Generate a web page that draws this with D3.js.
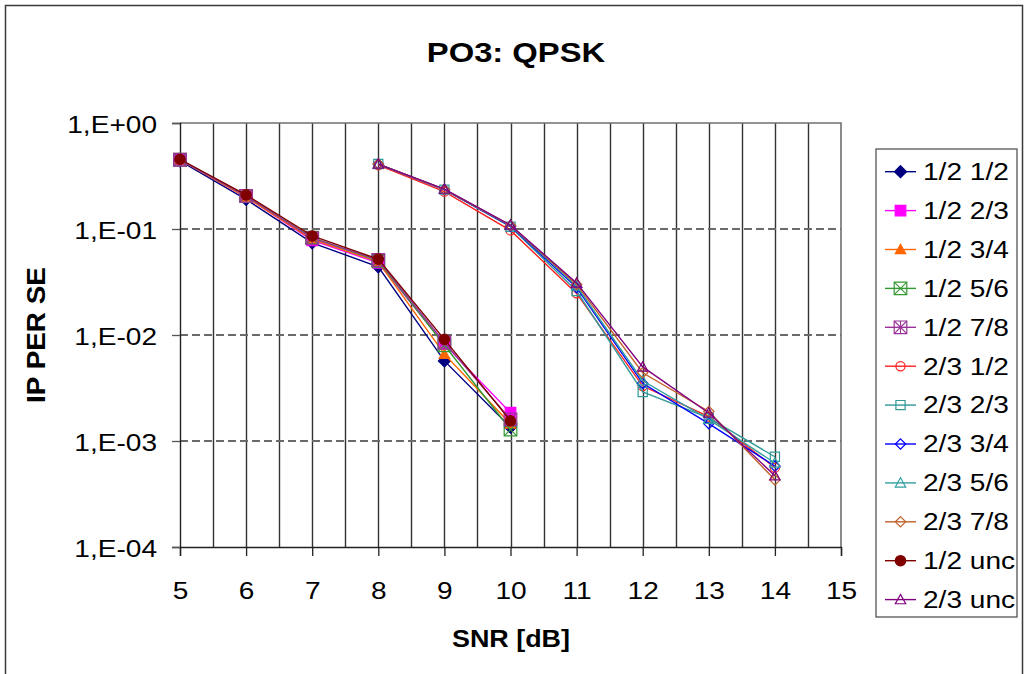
<!DOCTYPE html>
<html>
<head>
<meta charset="utf-8">
<script src="https://cdn.jsdelivr.net/npm/d3@7"></script>
<style>
  html, body { margin: 0; padding: 0; background: #fff; }
  svg { display: block; font-family: "Liberation Sans", Arial, sans-serif; }
</style>
</head>
<body>
<svg id="chart" width="1024" height="674"></svg>
<script>
// SNR points for the two code-rate groups
const snrLow = [5, 6, 7, 8, 9, 10];
const snrHigh = [8, 9, 10, 11, 12, 13, 14];

// IP packet error rate per series
const per12_12 = [0.44, 0.19, 0.074, 0.044, 0.0057, 0.00135];
const per12_23 = [0.45, 0.20, 0.078, 0.048, 0.0082, 0.00185];
const per12_34 = [0.45, 0.20, 0.080, 0.049, 0.0066, 0.00145];
const per12_56 = [0.45, 0.205, 0.083, 0.050, 0.0080, 0.00128];
const per12_78 = [0.45, 0.205, 0.082, 0.051, 0.0085, 0.0016];
const per23_12 = [0.40, 0.225, 0.097, 0.0247, 0.0033, 0.0017, 0.00056];
const per23_23 = [0.41, 0.235, 0.105, 0.026, 0.0029, 0.00165, 0.00071];
const per23_34 = [0.41, 0.235, 0.106, 0.028, 0.0035, 0.00146, 0.00058];
const per23_56 = [0.41, 0.237, 0.108, 0.029, 0.0037, 0.0016, 0.00062];
const per23_78 = [0.41, 0.236, 0.108, 0.030, 0.0044, 0.0019, 0.00043];
const per12_unc = [0.455, 0.21, 0.086, 0.052, 0.0091, 0.00155];
const per23_unc = [0.41, 0.238, 0.109, 0.031, 0.0050, 0.00184, 0.00047];

const seriesNames = ["1/2 1/2", "1/2 2/3", "1/2 3/4", "1/2 5/6", "1/2 7/8",
  "2/3 1/2", "2/3 2/3", "2/3 3/4", "2/3 5/6", "2/3 7/8", "1/2 unc", "2/3 unc"];

const xTicks = [5, 6, 7, 8, 9, 10, 11, 12, 13, 14, 15];
const yTicks = [1, 1e-1, 1e-2, 1e-3, 1e-4];
const yTickLabels = ["1,E+00", "1,E-01", "1,E-02", "1,E-03", "1,E-04"];

const titleText = "PO3: QPSK";
const xTitle = "SNR [dB]";
const yTitle = "IP PER SE";

// marker style per series: shape, stroke colour, fill, half-size
const styles = [
  { shape: "diamond", color: "#000080", fill: "#000080", r: 6 },
  { shape: "square", color: "#ff00ff", fill: "#ff00ff", r: 5.3 },
  { shape: "triangle", color: "#ff6600", fill: "#ff6600", r: 5.2 },
  { shape: "squareX", color: "#339933", fill: "none", r: 6.3 },
  { shape: "squareStar", color: "#993399", fill: "none", r: 6.3 },
  { shape: "circle", color: "#ff2020", fill: "none", r: 4.6 },
  { shape: "square", color: "#339999", fill: "none", r: 4.6 },
  { shape: "diamond", color: "#0000ff", fill: "none", r: 5.2 },
  { shape: "triangle", color: "#33a0a0", fill: "none", r: 5.2 },
  { shape: "diamond", color: "#c0602a", fill: "none", r: 5.2 },
  { shape: "circle", color: "#800000", fill: "#800000", r: 5.2 },
  { shape: "triangle", color: "#800080", fill: "none", r: 5.2 }
];

const seriesData = [
  [snrLow, per12_12], [snrLow, per12_23], [snrLow, per12_34], [snrLow, per12_56],
  [snrLow, per12_78], [snrHigh, per23_12], [snrHigh, per23_23], [snrHigh, per23_34],
  [snrHigh, per23_56], [snrHigh, per23_78], [snrLow, per12_unc], [snrHigh, per23_unc]
];

const svg = d3.select("#chart");
const SX = 1.17; // horizontal text stretch

const plot = { left: 180, right: 841, top: 123, bottom: 547 };
const x = d3.scaleLinear().domain([5, 15]).range([plot.left, plot.right]);
const y = d3.scaleLog().domain([1e-4, 1]).range([plot.bottom, plot.top]);

function stretchedText(parent, px, py, str, size, opts = {}) {
  return parent.append("text")
    .attr("transform", `translate(${px},${py}) ${opts.rotate ? `rotate(${opts.rotate})` : ""} scale(${opts.sx || SX},1)`)
    .attr("font-size", size)
    .attr("text-anchor", opts.anchor || "start")
    .attr("font-weight", opts.bold ? "bold" : "normal")
    .attr("fill", "#000")
    .text(str);
}

// outer frame
svg.append("rect").attr("x", 5.5).attr("y", 5.5).attr("width", 1017).attr("height", 680)
  .attr("fill", "#fff").attr("stroke", "#3a3a3a").attr("stroke-width", 1.5);

// vertical gridlines every 0.5 dB
const vGrid = d3.range(5.5, 15, 0.5);
svg.append("g").selectAll("line").data(vGrid).join("line")
  .attr("x1", d => Math.round(x(d)) + 0.5).attr("x2", d => Math.round(x(d)) + 0.5)
  .attr("y1", plot.top).attr("y2", plot.bottom)
  .attr("stroke", "#333").attr("stroke-width", 1.4);

// horizontal dashed gridlines at each decade
svg.append("g").selectAll("line").data(yTicks.slice(1, 4)).join("line")
  .attr("x1", plot.left).attr("x2", plot.right)
  .attr("y1", d => y(d)).attr("y2", d => y(d))
  .attr("stroke", "#6a6a6a").attr("stroke-width", 2).attr("stroke-dasharray", "8,4");

// plot border top / right
svg.append("path")
  .attr("d", `M${plot.left},${plot.top}H${plot.right}V${plot.bottom}`)
  .attr("fill", "none").attr("stroke", "#707070").attr("stroke-width", 1.6);

// axes
const xAxis = d3.axisBottom(x).tickValues(xTicks).tickSize(9).tickFormat(d3.format("d"));
const gx = svg.append("g").attr("transform", `translate(0,${plot.bottom})`).call(xAxis);
gx.select(".domain").attr("stroke", "#222").attr("stroke-width", 1.4);
gx.selectAll(".tick line").attr("stroke", "#222").attr("stroke-width", 1.3);
gx.selectAll(".tick text").remove();
gx.selectAll(".tick").each(function (d) {
  stretchedText(d3.select(this), 0, 52, String(d), 24, { anchor: "middle" });
});

const yAxis = d3.axisLeft(y).tickValues(yTicks).tickSize(8)
  .tickFormat((d, i) => yTickLabels[i]);
const gy = svg.append("g").attr("transform", `translate(${plot.left},0)`).call(yAxis);
gy.select(".domain").attr("stroke", "#222").attr("stroke-width", 1.4);
gy.selectAll(".tick line").attr("stroke", "#555").attr("stroke-width", 1.3);
gy.selectAll(".tick text").remove();
gy.selectAll(".tick").each(function (d, i) {
  stretchedText(d3.select(this), -23, 9.5, yTickLabels[i], 24, { anchor: "end" });
});

// titles
stretchedText(svg, 516, 62, titleText, 28, { anchor: "middle", bold: true });
stretchedText(svg, 511, 647, xTitle, 23, { anchor: "middle", bold: true });
stretchedText(svg, 45, 335, yTitle, 25, { anchor: "middle", bold: true, rotate: -90, sx: 1.116 });

// marker path generators
function markerPath(shape, r) {
  switch (shape) {
    case "diamond": return `M0,${-r}L${r},0L0,${r}L${-r},0Z`;
    case "triangle": return `M0,${-r}L${r},${r * 0.8}L${-r},${r * 0.8}Z`;
    case "circle": return d3.symbol(d3.symbolCircle, Math.PI * r * r)();
    default: return `M${-r},${-r}H${r}V${r}H${-r}Z`;
  }
}
function drawMarker(g, st, cx, cy) {
  const m = g.append("g").attr("transform", `translate(${cx},${cy})`);
  const base = st.shape.startsWith("square") ? "square" : st.shape;
  const rr = st.r;
  m.append("path").attr("d", markerPath(base, rr))
    .attr("fill", st.fill)
    .attr("stroke", st.color).attr("stroke-width", 1.2);
  if (st.shape === "squareX" || st.shape === "squareStar") {
    m.append("path").attr("d", `M${-rr},${-rr}L${rr},${rr}M${rr},${-rr}L${-rr},${rr}`)
      .attr("stroke", st.color).attr("stroke-width", 1.1);
  }
  if (st.shape === "squareStar") {
    m.append("path").attr("d", `M0,${-rr}V${rr}`).attr("stroke", st.color).attr("stroke-width", 1.1);
  }
}

const line = d3.line().x(d => x(d[0])).y(d => y(d[1]));
const marks = svg.append("g");
seriesData.forEach((sd, i) => {
  const st = styles[i];
  const pts = sd[0].map((s, k) => [s, sd[1][k]]);
  const g = marks.append("g");
  g.append("path").attr("d", line(pts)).attr("fill", "none")
    .attr("stroke", st.color).attr("stroke-width", 1.4);
  pts.forEach(p => drawMarker(g, st, x(p[0]), y(p[1])));
});

// legend
const lg = svg.append("g");
lg.append("rect").attr("x", 876).attr("y", 149).attr("width", 141).attr("height", 468)
  .attr("fill", "#fff").attr("stroke", "#555").attr("stroke-width", 1.3);
seriesNames.forEach((name, i) => {
  const cy = 171.7 + i * 38.9;
  const st = styles[i];
  lg.append("line").attr("x1", 885).attr("x2", 916).attr("y1", cy).attr("y2", cy)
    .attr("stroke", st.color).attr("stroke-width", 1.4);
  drawMarker(lg, st, 900.5, cy);
  stretchedText(lg, 923, cy + 8.3, name, 24);
});
</script>
</body>
</html>
